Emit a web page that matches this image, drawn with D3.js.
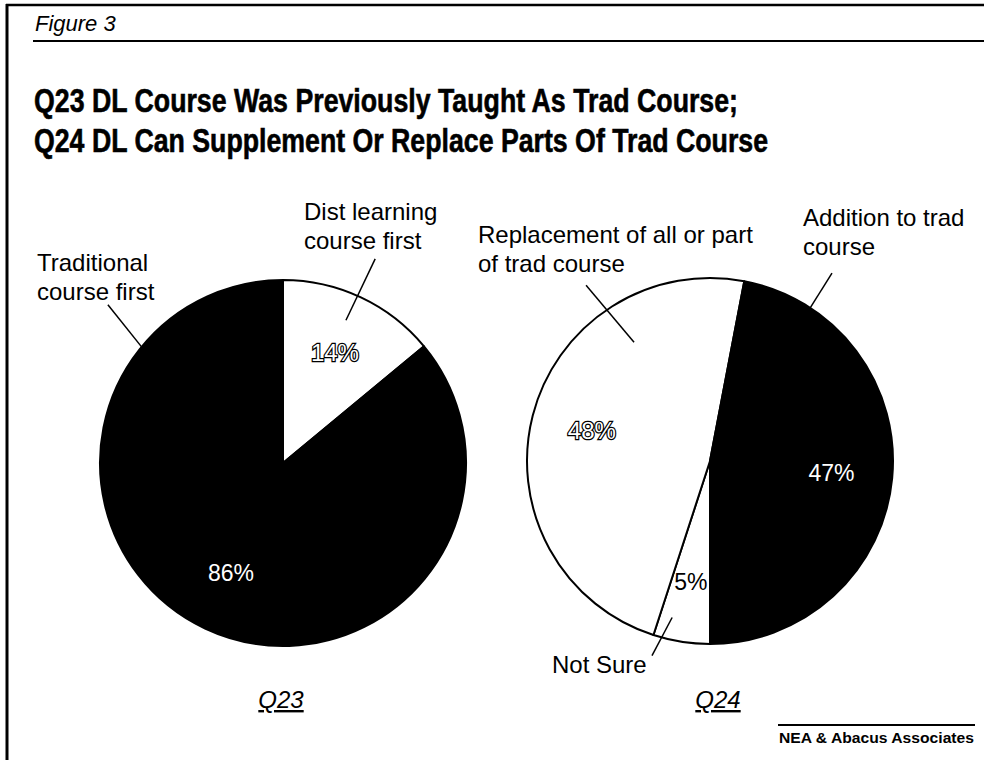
<!DOCTYPE html>
<html>
<head>
<meta charset="utf-8">
<script src="https://cdn.jsdelivr.net/npm/d3@7"></script>
<style>
  body { margin: 0; background: #fff; }
  svg { display: block; font-family: 'Liberation Sans', Arial, sans-serif; }
</style>
</head>
<body>
<svg id="chart" width="984" height="760"></svg>
<script>
// Q23 data (clockwise from 12 o'clock)
const q23Labels = ['Dist learning course first', 'Traditional course first']
const q23Values = [14, 86]
const q23Fill = ['#fff', '#000']

// Q24 data (clockwise from 6 o'clock)
const q24Labels = ['Not Sure', 'Replacement of all or part of trad course', 'Addition to trad course']
const q24Values = [5, 48, 47]
const q24Fill = ['#fff', '#fff', '#000']

const svg = d3.select('#chart')
const width = 984, height = 760

// frame
svg.append('line').attr('x1', 6).attr('x2', width).attr('y1', 5).attr('y2', 5)
  .attr('stroke', '#000').attr('stroke-width', 2.5)
svg.append('line').attr('x1', 7).attr('x2', 7).attr('y1', 4).attr('y2', height)
  .attr('stroke', '#000').attr('stroke-width', 3)
svg.append('line').attr('x1', 33).attr('x2', width).attr('y1', 41).attr('y2', 41)
  .attr('stroke', '#000').attr('stroke-width', 2)

svg.append('text').attr('x', 35).attr('y', 31)
  .style('font-size', '22px').style('font-style', 'italic')
  .text('Figure 3')

const titleLines = [
  ['Q23 DL Course Was Previously Taught As Trad Course;', 704],
  ['Q24 DL Can Supplement Or Replace Parts Of Trad Course', 734]
]
titleLines.forEach((t, i) => {
  svg.append('text').attr('x', 34).attr('y', 112 + i * 40)
    .attr('textLength', t[1]).attr('lengthAdjust', 'spacingAndGlyphs')
    .attr('stroke', '#000').attr('stroke-width', 0.6)
    .style('font-size', '33px').style('font-weight', 'bold')
    .text(t[0])
})

const R = 183
const rad = a => a * Math.PI / 180
// polar helper: angle in degrees clockwise from top
const polar = (cx, cy, a, r) => [cx + r * Math.sin(rad(a)), cy - r * Math.cos(rad(a))]

function drawPie(cx, cy, values, fills, startAngle, pctLabels, leaders, texts, caption, capX) {
  const g = svg.append('g').attr('transform', `translate(${cx},${cy})`)
  const pie = d3.pie().sort(null).startAngle(startAngle).endAngle(startAngle + 2 * Math.PI)
  const arcs = pie(values)
  const arc = d3.arc().innerRadius(0).outerRadius(R)
  const labelArc = d3.arc().innerRadius(122).outerRadius(122)

  g.selectAll('path')
    .data(arcs)
    .enter()
    .append('path')
    .attr('d', arc)
    .attr('fill', (d, i) => fills[i])
    .attr('stroke', '#000')
    .attr('stroke-width', 2)
    .attr('stroke-linejoin', 'round')

  g.selectAll('text.pct')
    .data(arcs)
    .enter()
    .append('text')
    .attr('class', 'pct')
    .attr('transform', d => `translate(${labelArc.centroid(d)})`)
    .attr('text-anchor', 'middle')
    .attr('dy', '0.35em')
    .style('font-size', '23px')
    .each(function(d, i) {
      const s = d3.select(this)
      const style = pctLabels[i]
      if (style === 'outline') {
        s.attr('fill', '#fff').attr('stroke', '#000').attr('stroke-width', 2.4)
          .attr('paint-order', 'stroke').style('font-size', '24px')
      } else if (style === 'white') {
        s.attr('fill', '#fff')
      } else {
        s.attr('fill', '#000')
      }
    })
    .text(d => d.value + '%')

  leaders.forEach(l => {
    const p1 = polar(cx, cy, l[0], l[1])
    const p2 = polar(cx, cy, l[2], l[3])
    svg.append('line').attr('x1', p1[0]).attr('y1', p1[1]).attr('x2', p2[0]).attr('y2', p2[1])
      .attr('stroke', '#000').attr('stroke-width', 1.5)
  })

  texts.forEach(t => {
    const txt = svg.append('text').attr('x', t.x).attr('y', t.y).style('font-size', '24px')
    t.lines.forEach((ln, i) => {
      txt.append('tspan').attr('x', t.x).attr('dy', i === 0 ? 0 : 29).text(ln)
    })
  })

  svg.append('text').attr('x', capX).attr('y', 708)
    .attr('text-anchor', 'middle')
    .style('font-size', '24px').style('font-style', 'italic')
    .style('text-decoration', 'underline')
    .text(caption)
}

drawPie(283, 463, q23Values, q23Fill, 0,
  ['outline', 'white'],
  [[24.3, 224, 23.8, 156], [312.1, 236, 309.4, 183]],
  [
    { x: 304, y: 220, lines: ['Dist learning', 'course first'] },
    { x: 37, y: 271, lines: ['Traditional', 'course first'] }
  ],
  'Q23', 281)

drawPie(710, 461, q24Values, q24Fill, Math.PI,
  ['black', 'outline', 'white'],
  [[196.6, 203, 193.6, 161], [324.8, 215, 327.4, 141], [33, 224, 33.2, 183]],
  [
    { x: 552, y: 673, lines: ['Not Sure'] },
    { x: 478, y: 243, lines: ['Replacement of all or part', 'of trad course'] },
    { x: 803, y: 226, lines: ['Addition to trad', 'course'] }
  ],
  'Q24', 718)

// source
svg.append('line').attr('x1', 778).attr('x2', 975).attr('y1', 725).attr('y2', 725)
  .attr('stroke', '#000').attr('stroke-width', 2)
svg.append('text').attr('x', 779).attr('y', 743)
  .attr('textLength', 195).attr('lengthAdjust', 'spacingAndGlyphs')
  .style('font-size', '15px').style('font-weight', 'bold')
  .text('NEA & Abacus Associates')
</script>
</body>
</html>
